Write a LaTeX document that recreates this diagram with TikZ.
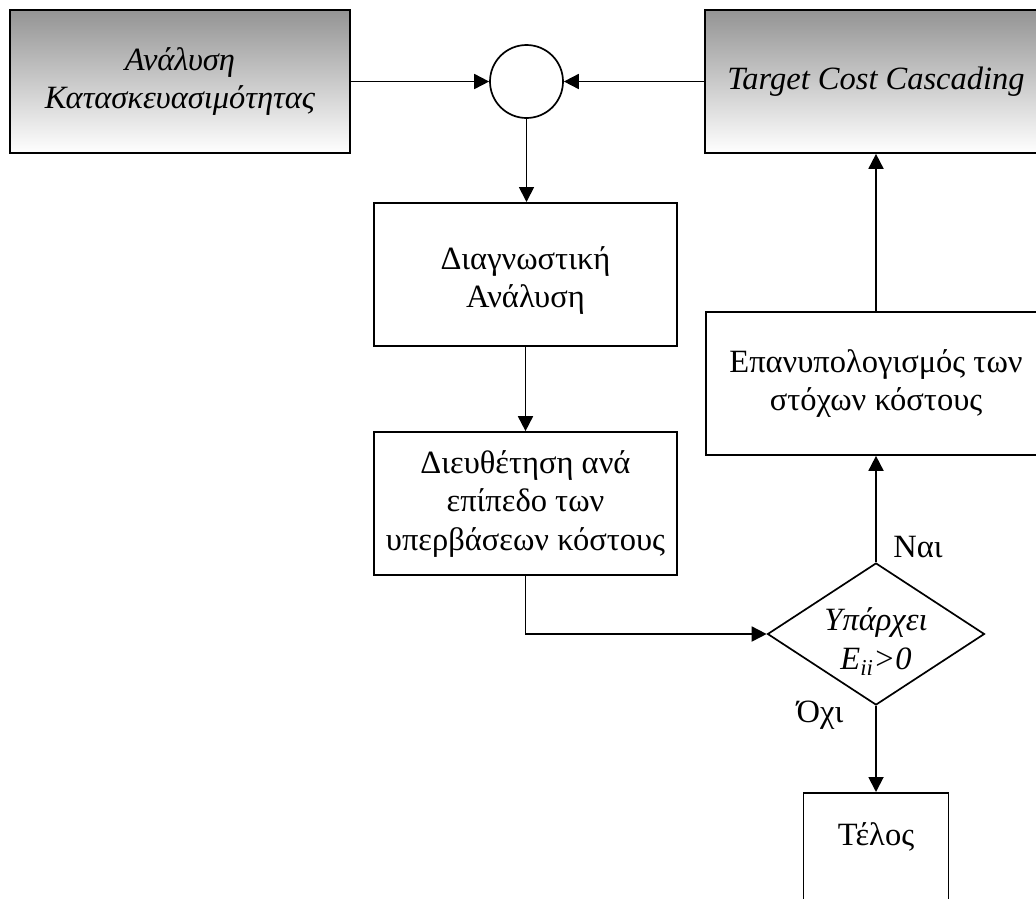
\documentclass[tikz,border=0pt]{standalone}
\usepackage{fontspec}
\setmainfont{Liberation Serif}
\usetikzlibrary{shapes.geometric,arrows.meta}
\newcommand{\flowfont}{\fontsize{32.5}{38.5}\selectfont}
\newcommand{\lowered}[1]{\raisebox{-8pt}[\height][\depth]{#1}}
\begin{document}
\begin{tikzpicture}[x=1pt,y=-1pt,
  every node/.style={font=\flowfont},
  box/.style={draw, line width=1.7pt, inner sep=0pt, align=center},
  greybox/.style={box, top color=black!42, bottom color=white, font=\flowfont\itshape},
  flow/.style={line width=1.8pt, -{Triangle[length=15pt,width=15pt]}}]
\useasboundingbox (0,0) rectangle (1036,898);
\clip (0,0) rectangle (1036,898);

% top row: two inputs merging at a summing junction
\node[greybox, minimum width=340pt, minimum height=143pt] (ana) at (180,81.5)
  {Ανάλυση\\Κατασκευασιμότητας};
\node[draw, circle, line width=1.7pt, minimum size=73pt, inner sep=0pt] (sum) at (526.5,81.5) {};
\node[greybox, minimum width=342pt, minimum height=143pt] (tcc) at (876,81.5)
  {Target Cost Cascading};

% left column
\node[box, minimum width=303pt, text height=105pt, text depth=38pt, anchor=north] (diag) at (525.5,202)
  {Διαγνωστική\\Ανάλυση};
\node[box, minimum width=303pt, minimum height=143pt] (dieu) at (525.5,503.5)
  {Διευθέτηση ανά\\επίπεδο των\\υπερβάσεων κόστους};

% right column
\node[box, minimum width=340pt, minimum height=143pt] (epan) at (876,383.5)
  {Επανυπολογισμός των\\στόχων κόστους};
\node[draw, diamond, line width=1.7pt, minimum width=217pt, minimum height=142pt,
      aspect=1.53, inner sep=0pt, align=center, font=\flowfont\itshape] (dec) at (876,634)
  {\lowered{Υπάρχει}\\\lowered{E\textsubscript{ii}>0}};
\node[box, minimum width=145pt, text height=53pt, text depth=80pt, anchor=north] (fin) at (876,792)
  {Τέλος};

% branch labels
\node (yes) at (918,547) {Ναι};
\node (no) at (820,715) {Όχι};

% connectors
\draw[flow] (ana.east) -- (sum.west);
\draw[flow] (tcc.west) -- (sum.east);
\draw[flow] (sum.south) -- (sum.south |- diag.north);
\draw[flow] (diag.south) -- (dieu.north);
\draw[flow] (dieu.south) |- (dec.west);
\draw[flow] (dec.north) -- (epan.south);
\draw[flow] (epan.north) -- (tcc.south);
\draw[flow] (dec.south) -- (fin.north);
\end{tikzpicture}
\end{document}
